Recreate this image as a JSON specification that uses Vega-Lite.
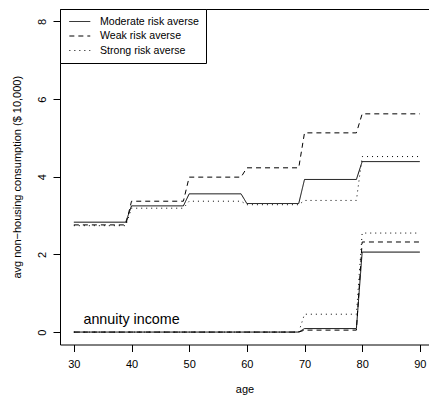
{
  "$schema": "https://vega.github.io/schema/vega-lite/v6.json",
  "width": 369,
  "height": 335.5,
  "autosize": {"type": "none"},
  "padding": {"left": 60, "top": 9, "right": 0, "bottom": 51.5},
  "background": "white",
  "config": {
    "view": {"stroke": null},
    "font": "Liberation Sans",
    "axis": {
      "grid": false,
      "domainColor": "black",
      "domainWidth": 1,
      "tickColor": "black",
      "tickWidth": 1,
      "tickSize": 7,
      "labelColor": "black",
      "labelFont": "Liberation Sans",
      "labelFontSize": 11,
      "titleColor": "black",
      "titleFont": "Liberation Sans",
      "titleFontSize": 11,
      "titleFontWeight": "normal"
    }
  },
  "datasets": {
    "series": [
      {"age": 30, "value": 2.83, "risk": "Moderate risk averse", "kind": "consumption"},
      {"age": 39, "value": 2.83, "risk": "Moderate risk averse", "kind": "consumption"},
      {"age": 40, "value": 3.25, "risk": "Moderate risk averse", "kind": "consumption"},
      {"age": 49, "value": 3.25, "risk": "Moderate risk averse", "kind": "consumption"},
      {"age": 50, "value": 3.56, "risk": "Moderate risk averse", "kind": "consumption"},
      {"age": 59, "value": 3.56, "risk": "Moderate risk averse", "kind": "consumption"},
      {"age": 60, "value": 3.31, "risk": "Moderate risk averse", "kind": "consumption"},
      {"age": 69, "value": 3.31, "risk": "Moderate risk averse", "kind": "consumption"},
      {"age": 70, "value": 3.93, "risk": "Moderate risk averse", "kind": "consumption"},
      {"age": 79, "value": 3.93, "risk": "Moderate risk averse", "kind": "consumption"},
      {"age": 80, "value": 4.39, "risk": "Moderate risk averse", "kind": "consumption"},
      {"age": 90, "value": 4.39, "risk": "Moderate risk averse", "kind": "consumption"},

      {"age": 30, "value": 2.76, "risk": "Weak risk averse", "kind": "consumption"},
      {"age": 39, "value": 2.76, "risk": "Weak risk averse", "kind": "consumption"},
      {"age": 40, "value": 3.37, "risk": "Weak risk averse", "kind": "consumption"},
      {"age": 49, "value": 3.37, "risk": "Weak risk averse", "kind": "consumption"},
      {"age": 50, "value": 3.99, "risk": "Weak risk averse", "kind": "consumption"},
      {"age": 59, "value": 3.99, "risk": "Weak risk averse", "kind": "consumption"},
      {"age": 60, "value": 4.23, "risk": "Weak risk averse", "kind": "consumption"},
      {"age": 69, "value": 4.23, "risk": "Weak risk averse", "kind": "consumption"},
      {"age": 70, "value": 5.13, "risk": "Weak risk averse", "kind": "consumption"},
      {"age": 79, "value": 5.13, "risk": "Weak risk averse", "kind": "consumption"},
      {"age": 80, "value": 5.62, "risk": "Weak risk averse", "kind": "consumption"},
      {"age": 90, "value": 5.62, "risk": "Weak risk averse", "kind": "consumption"},

      {"age": 30, "value": 2.74, "risk": "Strong risk averse", "kind": "consumption"},
      {"age": 39, "value": 2.74, "risk": "Strong risk averse", "kind": "consumption"},
      {"age": 40, "value": 3.19, "risk": "Strong risk averse", "kind": "consumption"},
      {"age": 49, "value": 3.19, "risk": "Strong risk averse", "kind": "consumption"},
      {"age": 50, "value": 3.37, "risk": "Strong risk averse", "kind": "consumption"},
      {"age": 59, "value": 3.37, "risk": "Strong risk averse", "kind": "consumption"},
      {"age": 60, "value": 3.28, "risk": "Strong risk averse", "kind": "consumption"},
      {"age": 69, "value": 3.28, "risk": "Strong risk averse", "kind": "consumption"},
      {"age": 70, "value": 3.39, "risk": "Strong risk averse", "kind": "consumption"},
      {"age": 79, "value": 3.39, "risk": "Strong risk averse", "kind": "consumption"},
      {"age": 80, "value": 4.52, "risk": "Strong risk averse", "kind": "consumption"},
      {"age": 90, "value": 4.52, "risk": "Strong risk averse", "kind": "consumption"},

      {"age": 30, "value": 0, "risk": "Moderate risk averse", "kind": "annuity"},
      {"age": 39, "value": 0, "risk": "Moderate risk averse", "kind": "annuity"},
      {"age": 40, "value": 0, "risk": "Moderate risk averse", "kind": "annuity"},
      {"age": 49, "value": 0, "risk": "Moderate risk averse", "kind": "annuity"},
      {"age": 50, "value": 0, "risk": "Moderate risk averse", "kind": "annuity"},
      {"age": 59, "value": 0, "risk": "Moderate risk averse", "kind": "annuity"},
      {"age": 60, "value": 0, "risk": "Moderate risk averse", "kind": "annuity"},
      {"age": 69, "value": 0, "risk": "Moderate risk averse", "kind": "annuity"},
      {"age": 70, "value": 0.09, "risk": "Moderate risk averse", "kind": "annuity"},
      {"age": 79, "value": 0.09, "risk": "Moderate risk averse", "kind": "annuity"},
      {"age": 80, "value": 2.06, "risk": "Moderate risk averse", "kind": "annuity"},
      {"age": 90, "value": 2.06, "risk": "Moderate risk averse", "kind": "annuity"},

      {"age": 30, "value": 0, "risk": "Weak risk averse", "kind": "annuity"},
      {"age": 39, "value": 0, "risk": "Weak risk averse", "kind": "annuity"},
      {"age": 40, "value": 0, "risk": "Weak risk averse", "kind": "annuity"},
      {"age": 49, "value": 0, "risk": "Weak risk averse", "kind": "annuity"},
      {"age": 50, "value": 0, "risk": "Weak risk averse", "kind": "annuity"},
      {"age": 59, "value": 0, "risk": "Weak risk averse", "kind": "annuity"},
      {"age": 60, "value": 0, "risk": "Weak risk averse", "kind": "annuity"},
      {"age": 69, "value": 0, "risk": "Weak risk averse", "kind": "annuity"},
      {"age": 70, "value": 0.05, "risk": "Weak risk averse", "kind": "annuity"},
      {"age": 79, "value": 0.05, "risk": "Weak risk averse", "kind": "annuity"},
      {"age": 80, "value": 2.32, "risk": "Weak risk averse", "kind": "annuity"},
      {"age": 90, "value": 2.32, "risk": "Weak risk averse", "kind": "annuity"},

      {"age": 30, "value": 0, "risk": "Strong risk averse", "kind": "annuity"},
      {"age": 39, "value": 0, "risk": "Strong risk averse", "kind": "annuity"},
      {"age": 40, "value": 0, "risk": "Strong risk averse", "kind": "annuity"},
      {"age": 49, "value": 0, "risk": "Strong risk averse", "kind": "annuity"},
      {"age": 50, "value": 0, "risk": "Strong risk averse", "kind": "annuity"},
      {"age": 59, "value": 0, "risk": "Strong risk averse", "kind": "annuity"},
      {"age": 60, "value": 0, "risk": "Strong risk averse", "kind": "annuity"},
      {"age": 69, "value": 0, "risk": "Strong risk averse", "kind": "annuity"},
      {"age": 70, "value": 0.46, "risk": "Strong risk averse", "kind": "annuity"},
      {"age": 79, "value": 0.46, "risk": "Strong risk averse", "kind": "annuity"},
      {"age": 80, "value": 2.55, "risk": "Strong risk averse", "kind": "annuity"},
      {"age": 90, "value": 2.55, "risk": "Strong risk averse", "kind": "annuity"}
    ],
    "notes": [
      {"age": 40, "value": 0.21, "label": "annuity income"}
    ]
  },
  "layer": [
    {
      "data": {"name": "series"},
      "mark": {"type": "line", "stroke": "black", "strokeWidth": 1},
      "encoding": {
        "x": {
          "field": "age",
          "type": "quantitative",
          "scale": {"domain": [27.6, 91.59], "nice": false, "zero": false},
          "axis": {
            "orient": "bottom",
            "values": [30, 40, 50, 60, 70, 80, 90],
            "labelPadding": 7,
            "title": "age",
            "titlePadding": 14
          }
        },
        "y": {
          "field": "value",
          "type": "quantitative",
          "scale": {"domain": [-0.32, 8.32], "nice": false, "zero": false},
          "axis": {
            "values": [0, 2, 4, 6, 8],
            "labelAngle": -90,
            "labelAlign": "center",
            "labelBaseline": "bottom",
            "labelPadding": 6,
            "title": "avg non−housing consumption ($ 10,000)",
            "titlePadding": 14
          }
        },
        "strokeDash": {
          "field": "risk",
          "type": "nominal",
          "scale": {
            "domain": ["Moderate risk averse", "Weak risk averse", "Strong risk averse"],
            "range": [[1, 0], [5, 4], [1, 4]]
          },
          "legend": {
            "orient": "none",
            "legendX": 0,
            "legendY": 0,
            "title": null,
            "symbolType": "M-1.9,0H1.9",
            "symbolSize": 121,
            "symbolStrokeWidth": 1,
            "symbolStrokeColor": "black",
            "labelFont": "Liberation Sans",
            "labelFontSize": 10.6,
            "labelColor": "black",
            "padding": 6.5,
            "rowPadding": 2.5,
            "symbolOffset": 7.3,
            "labelOffset": 14.2,
            "strokeColor": "black",
            "fillColor": "white",
            "cornerRadius": 0
          }
        },
        "detail": {"field": "kind", "type": "nominal"}
      }
    },
    {
      "data": {"name": "notes"},
      "mark": {"type": "text", "fontSize": 14.3, "align": "center", "baseline": "alphabetic", "color": "black", "font": "Liberation Sans"},
      "encoding": {
        "x": {
          "field": "age",
          "type": "quantitative",
          "axis": {"orient": "top", "labels": false, "ticks": false, "title": null, "domain": true}
        },
        "y": {"field": "value", "type": "quantitative"},
        "text": {"field": "label"}
      }
    }
  ],
  "resolve": {"axis": {"x": "independent"}}
}
